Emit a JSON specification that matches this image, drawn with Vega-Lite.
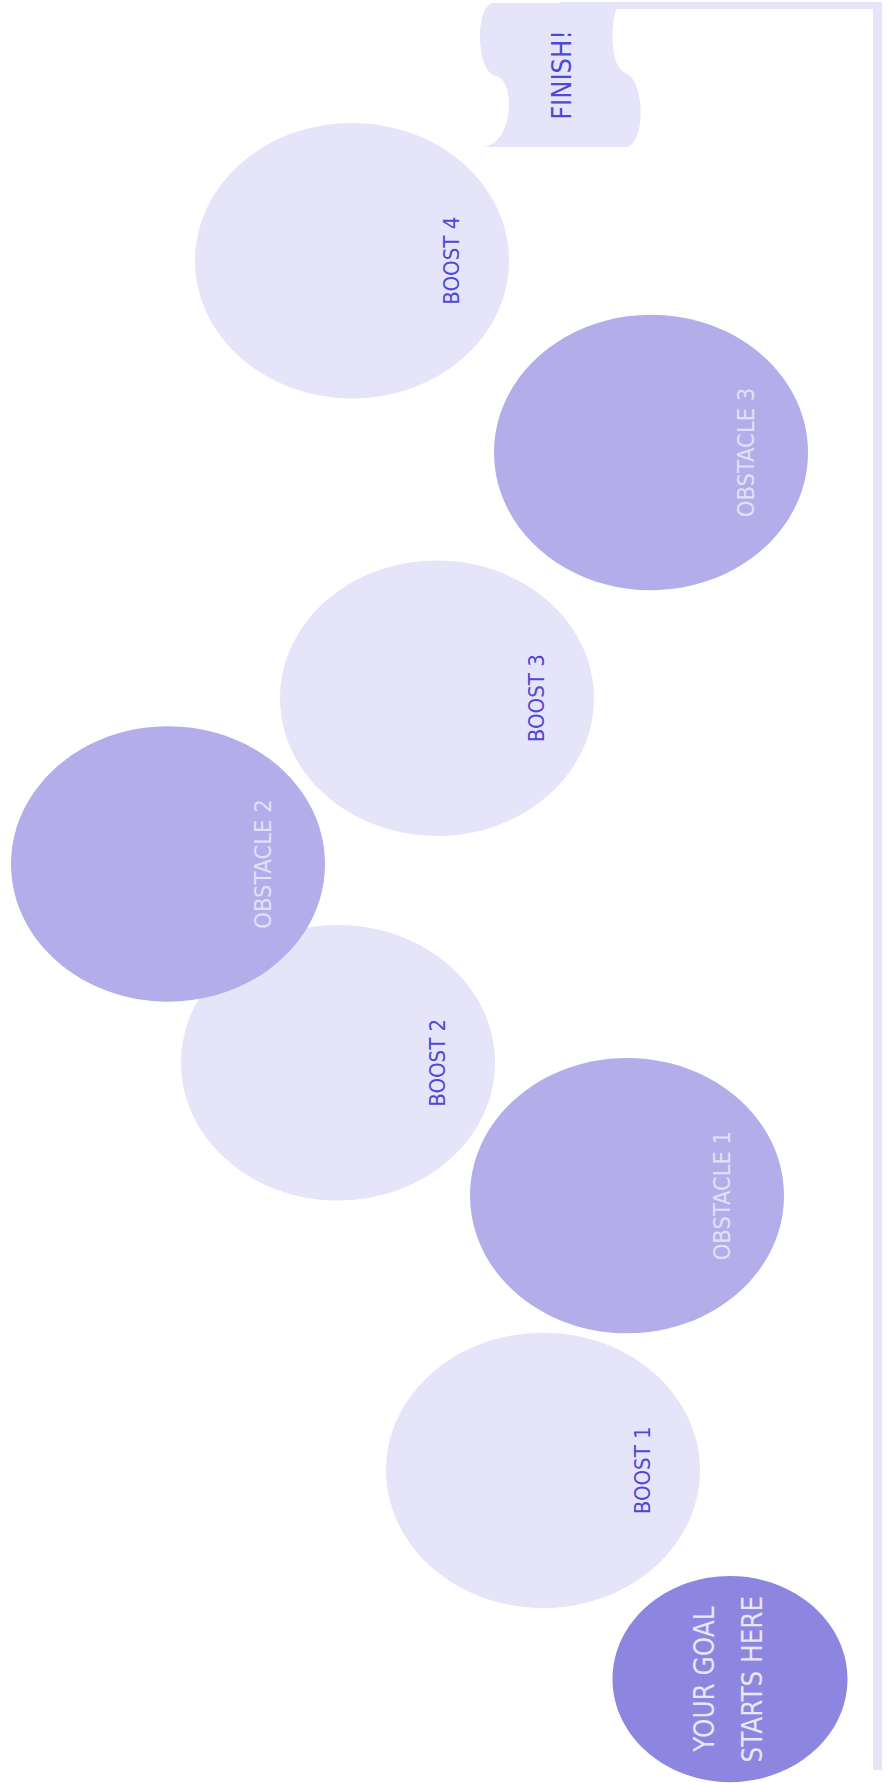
{
  "$schema": "https://vega.github.io/schema/vega-lite/v6.json",
  "width": 888,
  "height": 1783,
  "autosize": {"type": "fit", "contains": "padding"},
  "padding": 0,
  "background": "#ffffff",
  "config": {"view": {"stroke": null}},
  "datasets": {
    "stops": [
      {"label": "BOOST 1", "kind": "boost", "x": 543, "y": 1472},
      {"label": "OBSTACLE 1", "kind": "obstacle", "x": 627, "y": 1197},
      {"label": "BOOST 2", "kind": "boost", "x": 338, "y": 1064},
      {"label": "OBSTACLE 2", "kind": "obstacle", "x": 168, "y": 865},
      {"label": "BOOST 3", "kind": "boost", "x": 437, "y": 699},
      {"label": "OBSTACLE 3", "kind": "obstacle", "x": 651, "y": 453},
      {"label": "BOOST 4", "kind": "boost", "x": 352, "y": 261}
    ],
    "goal": [{"label": "YOUR GOAL\nSTARTS HERE", "kind": "goal", "x": 730, "y": 1681}],
    "finish": [{"label": "FINISH!", "kind": "finish", "x": 561, "y": 75}],
    "frame": [
      {"part": "top", "x": 560, "x2": 882, "y": 2, "y2": 9},
      {"part": "right", "x": 873, "x2": 882, "y": 2, "y2": 1772}
    ]
  },
  "encoding": {
    "x": {"field": "x", "type": "quantitative", "scale": {"domain": [0, 888], "nice": false, "zero": false}, "axis": null},
    "y": {"field": "y", "type": "quantitative", "scale": {"domain": [0, 1783], "reverse": true, "nice": false, "zero": false}, "axis": null}
  },
  "layer": [
    {
      "data": {"name": "frame"},
      "mark": {"type": "rect", "color": "#e6e4f9"},
      "encoding": {
        "x2": {"field": "x2"},
        "y2": {"field": "y2"}
      }
    },
    {
      "data": {"name": "finish"},
      "mark": {
        "type": "point",
        "shape": "M -0.84 -0.883 L 0.72 -0.883 C 0.6 -0.75 0.58 -0.1 0.791 -0.025 C 1.02 0.05 1.05 0.8 0.816 0.883 L -0.951 0.883 C -0.58 0.85 -0.55 0.05 -0.804 0.012 C -1.05 -0.05 -1.05 -0.85 -0.84 -0.883 Z",
        "size": 26569,
        "filled": true,
        "opacity": 1,
        "strokeWidth": 0
      },
      "encoding": {
        "color": {"field": "kind", "type": "nominal", "scale": {"domain": ["boost", "obstacle", "goal", "finish"], "range": ["#e6e4f9", "#b3aeea", "#8d86e0", "#e6e4f9"]}, "legend": null}
      }
    },
    {
      "data": {"name": "stops"},
      "mark": {
        "type": "point",
        "shape": "M -1 0 A 1 0.877 0 1 1 1 0 A 1 0.877 0 1 1 -1 0 Z",
        "size": 98596,
        "filled": true,
        "opacity": 1,
        "strokeWidth": 0
      },
      "encoding": {
        "color": {"field": "kind", "type": "nominal", "legend": null}
      }
    },
    {
      "data": {"name": "goal"},
      "mark": {
        "type": "point",
        "shape": "M -1 0 A 1 0.877 0 1 1 1 0 A 1 0.877 0 1 1 -1 0 Z",
        "size": 55225,
        "filled": true,
        "opacity": 1,
        "strokeWidth": 0
      },
      "encoding": {
        "color": {"field": "kind", "type": "nominal", "legend": null}
      }
    },
    {
      "data": {"name": "stops"},
      "transform": [{"filter": "datum.kind === 'boost'"}],
      "mark": {"type": "text", "angle": 270, "dy": 100, "align": "center", "baseline": "middle", "font": "DejaVu Sans Condensed, sans-serif", "fontSize": 22, "color": "#5048d4"},
      "encoding": {"text": {"field": "label"}}
    },
    {
      "data": {"name": "stops"},
      "transform": [{"filter": "datum.kind === 'obstacle'"}],
      "mark": {"type": "text", "angle": 270, "dy": 96, "align": "center", "baseline": "middle", "font": "DejaVu Sans Condensed, sans-serif", "fontSize": 23.5, "color": "#e2e0f8"},
      "encoding": {"text": {"field": "label"}}
    },
    {
      "data": {"name": "finish"},
      "mark": {"type": "text", "angle": 270, "dy": 2, "align": "center", "baseline": "middle", "font": "DejaVu Sans Condensed, sans-serif", "fontSize": 27, "color": "#5048d4"},
      "encoding": {"text": {"field": "label"}}
    },
    {
      "data": {"name": "goal"},
      "mark": {"type": "text", "angle": 270, "dy": -24, "align": "center", "baseline": "middle", "lineBreak": "\n", "lineHeight": 48, "font": "DejaVu Sans Condensed, sans-serif", "fontSize": 27.5, "color": "#e9e7fb"},
      "encoding": {"text": {"field": "label"}}
    }
  ]
}
